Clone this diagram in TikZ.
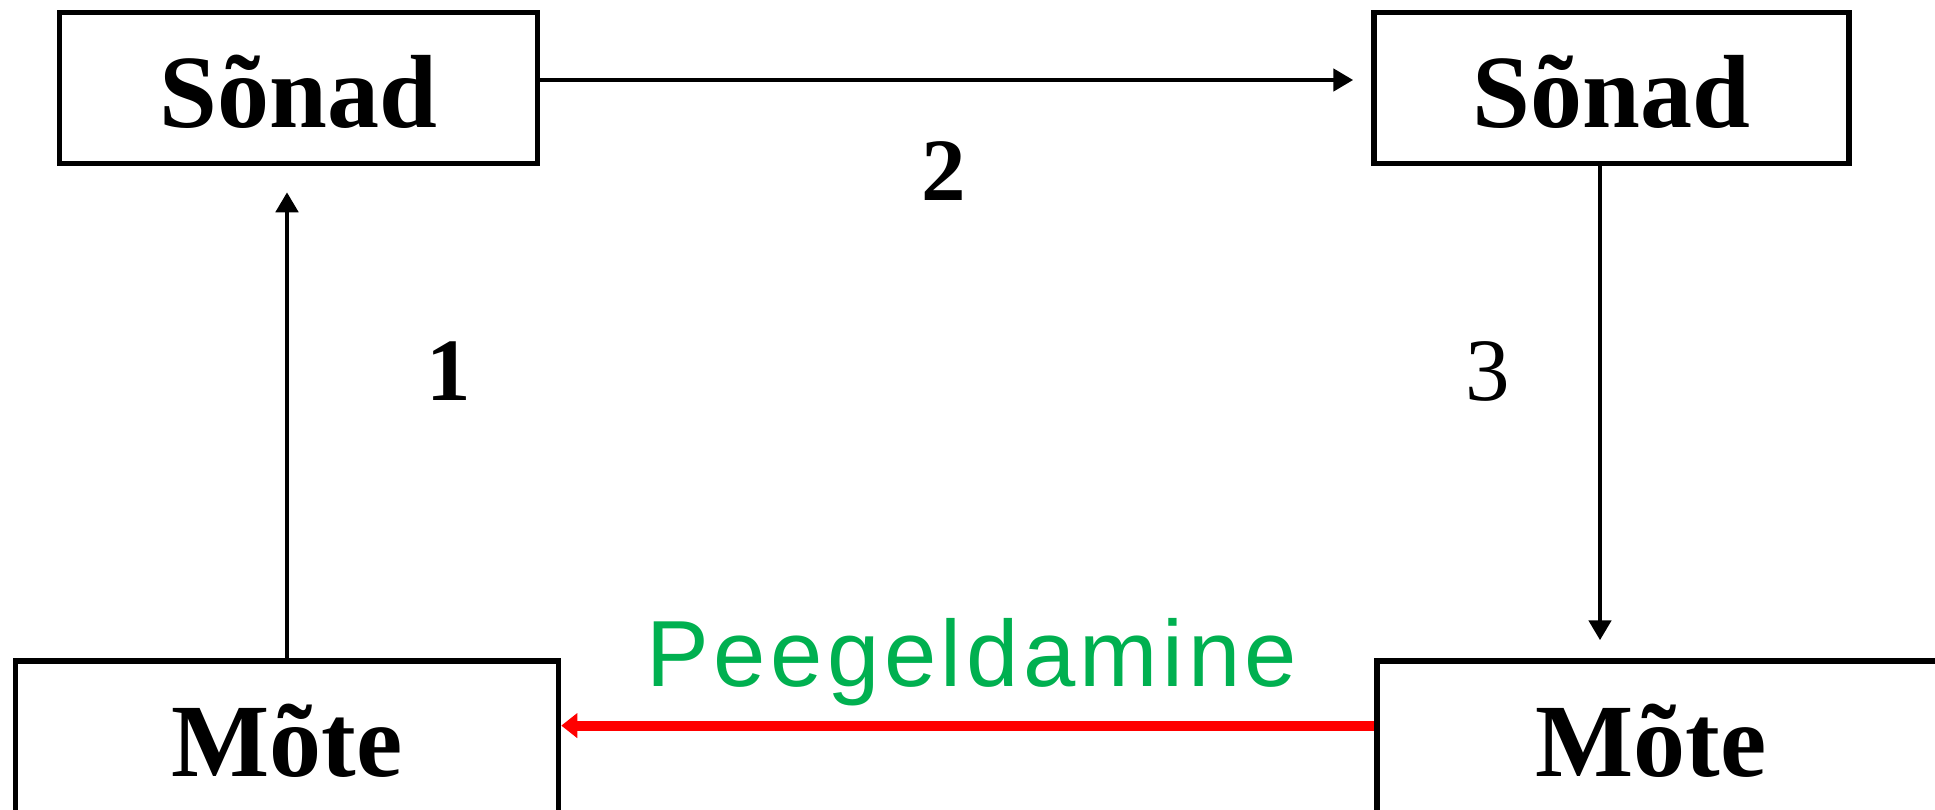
\documentclass[tikz,border=0pt]{standalone}
\usepackage{fontspec}
\setmainfont{Liberation Serif}
\newfontfamily\labelsans[LetterSpace=4.8]{Liberation Sans}
\usetikzlibrary{arrows.meta}

\definecolor{flowgreen}{HTML}{00B050}
\definecolor{flowred}{HTML}{FF0000}

\tikzset{
  box/.style={draw=black, line width=5.5pt, fill=white, inner sep=0pt,
    text height=79pt, text depth=0pt,
    font=\fontsize{104}{110}\selectfont\bfseries},
  word/.style={inner sep=0pt, font=\fontsize{104}{110}\selectfont\bfseries},
  num/.style={inner sep=0pt, anchor=base, font=\fontsize{89}{95}\selectfont\bfseries},
  numreg/.style={inner sep=0pt, anchor=base, font=\fontsize{89}{95}\selectfont},
  flow/.style={draw=black, line width=4.8pt, -{Triangle[length=20pt,width=22pt]}},
  mirror/.style={draw=flowred, line width=10pt, -{Triangle[length=16pt,width=24pt]}},
  mirrortext/.style={inner sep=0pt, anchor=base, text=flowgreen,
    font=\fontsize{94}{100}\selectfont\labelsans},
}

\begin{document}
\begin{tikzpicture}[x=1pt, y=-1pt]
  \useasboundingbox (0,0) rectangle (1935,809);

  % word boxes (top row)
  \node[box, minimum width=478pt, minimum height=151pt] (s1) at (298.5,88) {Sõnad};
  \node[box, minimum width=475pt, minimum height=151pt] (s2) at (1611.5,88) {Sõnad};

  % thought boxes (bottom row, running past the lower edge)
  \node[box, minimum width=543pt, minimum height=152pt] (m1) at (287,737) {Mõte};
  \node[box, minimum width=620pt, minimum height=152pt, anchor=west] (m2) at (1374,737) {};
  \node[word, anchor=base] (m2t) at (1651,776) {Mõte};

  % helper coordinates for connector heights and columns
  \coordinate (a2y) at (0,80);
  \coordinate (a3x) at (1600,0);
  \coordinate (ry) at (0,725.6);

  % step 1: thought to words
  \draw[flow, shorten >=26pt] (m1.north) -- (m1.north |- s1.south);
  % step 2: words to words
  \draw[flow, shorten >=18pt] (s1.east |- a2y) -- (s2.west |- a2y);
  % step 3: words to thought
  \draw[flow, shorten >=18pt] (s2.south -| a3x) -- (m2.north -| a3x);
  % reflection back to the speaker
  \draw[mirror] (m2.west |- ry) -- (m1.east |- ry);

  % step numbers
  \node[num] (n1) at (449,400) {1};
  \node[num] (n2) at (943.5,200) {2};
  \node[numreg] (n3) at (1487.5,400) {3};

  % reflection label
  \node[mirrortext] (refl) at (972,686) {Peegeldamine};
\end{tikzpicture}
\end{document}
